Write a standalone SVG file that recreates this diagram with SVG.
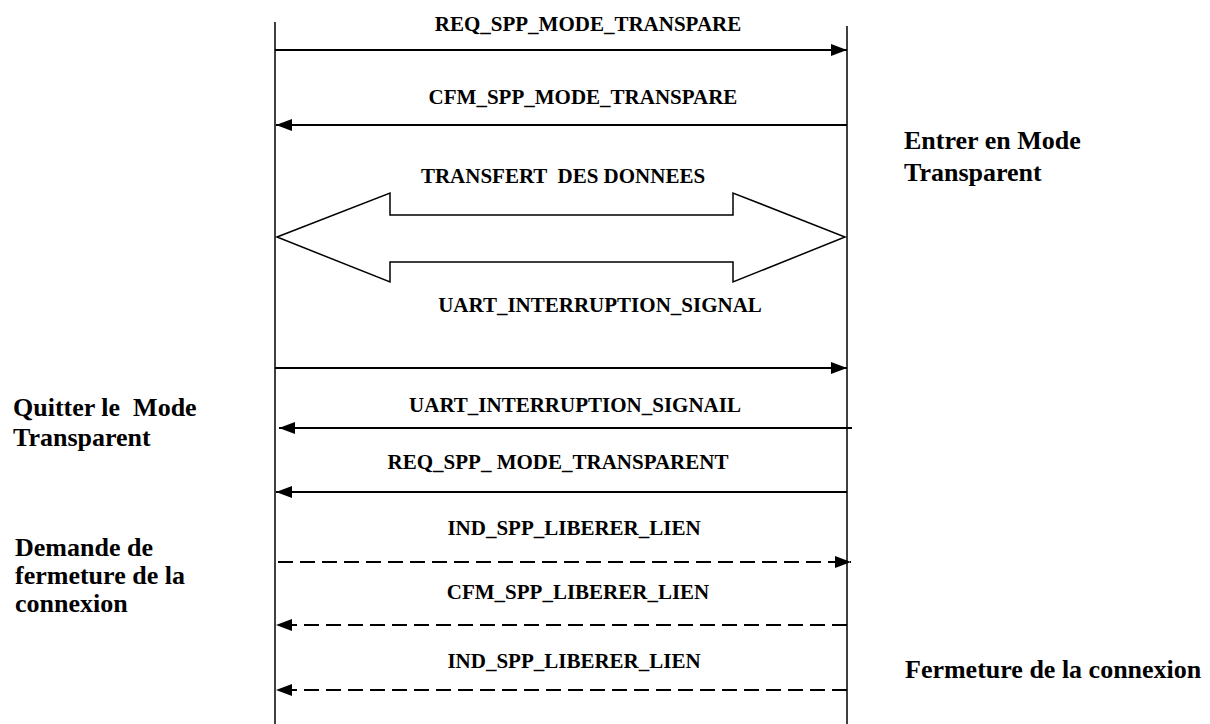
<svg xmlns="http://www.w3.org/2000/svg" width="1210" height="724" viewBox="0 0 1210 724">
<style>
.life{stroke:#000;stroke-width:1.5;fill:none}
.msg{stroke:#000;stroke-width:2;fill:none}
.dash{stroke-dasharray:15,7}
.lbl{font-family:"Liberation Serif","Times New Roman",serif;font-weight:bold;font-size:21px;fill:#000;text-anchor:middle}
.side{font-family:"Liberation Serif","Times New Roman",serif;font-weight:bold;font-size:26px;fill:#000}
</style>
<defs>
<marker id="ah" markerWidth="16" markerHeight="12" refX="16" refY="6" orient="auto" markerUnits="userSpaceOnUse">
<path d="M0,0 L16,6 L0,12 Z" fill="#000"/>
</marker>
</defs>
<rect width="1210" height="724" fill="#fff"/>
<g id="lifelines">
<line class="life" x1="275" y1="22" x2="275" y2="724"/>
<line class="life" x1="847" y1="26" x2="847" y2="724"/>
</g>
<g id="connectors">
<line class="msg" x1="275" y1="50" x2="847" y2="50" marker-end="url(#ah)"/>
<line class="msg" x1="847" y1="125" x2="276" y2="125" marker-end="url(#ah)"/>
<polygon id="transfer" points="277,237 390,193 390,215 733,215 733,193 845,237 733,282 733,262 390,262 390,282" fill="#fff" stroke="#000" stroke-width="1.5"/>
<line class="msg" x1="275" y1="368" x2="847" y2="368" marker-end="url(#ah)"/>
<line class="msg" x1="852" y1="428" x2="279" y2="428" marker-end="url(#ah)"/>
<line class="msg" x1="847" y1="492" x2="276" y2="492" marker-end="url(#ah)"/>
<line class="msg dash" x1="278" y1="562" x2="851" y2="562" marker-end="url(#ah)"/>
<line class="msg dash" x1="847" y1="625" x2="276" y2="625" marker-end="url(#ah)"/>
<line class="msg dash" x1="847" y1="690" x2="276" y2="690" marker-end="url(#ah)"/>
</g>
<g id="labels">
<text class="lbl" x="588" y="31">REQ_SPP_MODE_TRANSPARE</text>
<text class="lbl" x="583" y="104">CFM_SPP_MODE_TRANSPARE</text>
<text class="lbl" x="563" y="183" xml:space="preserve">TRANSFERT  DES DONNEES</text>
<text class="lbl" x="600" y="312">UART_INTERRUPTION_SIGNAL</text>
<text class="lbl" x="575" y="412">UART_INTERRUPTION_SIGNAIL</text>
<text class="lbl" x="558" y="469">REQ_SPP_ MODE_TRANSPARENT</text>
<text class="lbl" x="574" y="535">IND_SPP_LIBERER_LIEN</text>
<text class="lbl" x="578" y="599">CFM_SPP_LIBERER_LIEN</text>
<text class="lbl" x="574" y="668">IND_SPP_LIBERER_LIEN</text>
</g>
<g id="note-enter">
<text class="side" x="904" y="149">Entrer en Mode</text>
<text class="side" x="904" y="181">Transparent</text>
</g>
<g id="note-quit">
<text class="side" x="13" y="416" xml:space="preserve">Quitter le  Mode</text>
<text class="side" x="13" y="446">Transparent</text>
</g>
<g id="note-close-req">
<text class="side" x="15" y="556">Demande de</text>
<text class="side" x="15" y="584">fermeture de la</text>
<text class="side" x="15" y="612">connexion</text>
</g>
<g id="note-close">
<text class="side" x="905" y="678">Fermeture de la connexion</text>
</g>
</svg>
